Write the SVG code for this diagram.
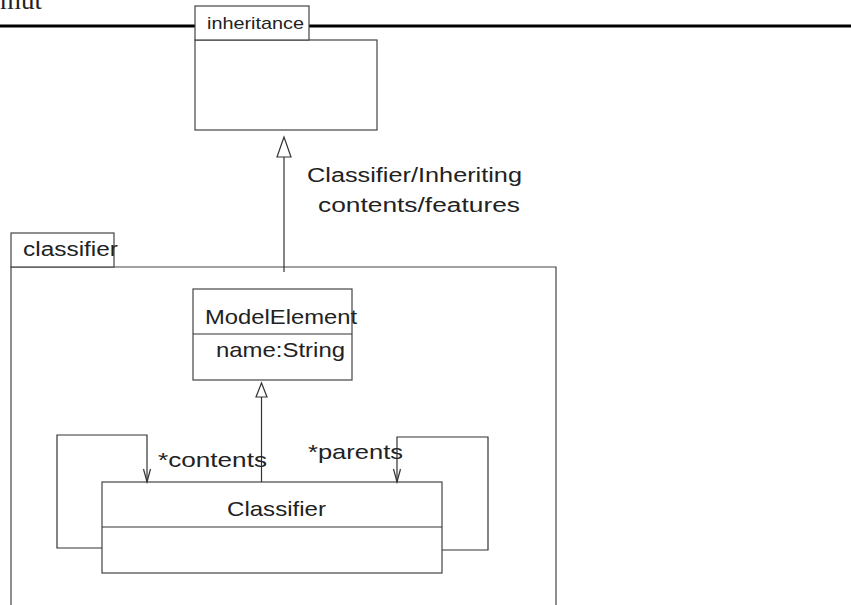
<svg xmlns="http://www.w3.org/2000/svg" width="851" height="605" viewBox="0 0 851 605">
<style>
.b{fill:#fff;stroke:#444;stroke-width:1.2}
.l{fill:none;stroke:#333;stroke-width:1.2}
.t{font-family:"Liberation Sans",Arial,sans-serif;fill:#222}
</style>
<text x="0" y="9" font-family="'Liberation Serif',serif" font-size="26" fill="#222" textLength="42" lengthAdjust="spacingAndGlyphs">mut</text>
<line x1="0" y1="26" x2="851" y2="26" stroke="#000" stroke-width="3"/>
<g id="inheritance">
<rect class="b" x="195" y="40" width="182" height="90"/>
<rect class="b" x="195" y="6" width="114" height="34"/>
<text class="t" x="207" y="29" font-size="17" textLength="97" lengthAdjust="spacingAndGlyphs">inheritance</text>
</g>
<g id="classifier-pkg">
<path class="b" d="M11,605 V267 H556 V605"/>
<rect class="b" x="11" y="233" width="103" height="34"/>
<text class="t" x="23" y="256" font-size="20" textLength="95" lengthAdjust="spacingAndGlyphs">classifier</text>
</g>
<g id="ModelElement">
<rect class="b" x="193" y="289" width="159" height="91"/>
<line class="l" x1="193" y1="334" x2="352" y2="334"/>
<text class="t" x="205" y="324" font-size="21" textLength="152" lengthAdjust="spacingAndGlyphs">ModelElement</text>
<text class="t" x="216" y="357" font-size="21" textLength="129" lengthAdjust="spacingAndGlyphs">name:String</text>
</g>
<g id="Classifier">
<rect class="b" x="102" y="482" width="340" height="91"/>
<line class="l" x1="102" y1="527" x2="442" y2="527"/>
<text class="t" x="227" y="516" font-size="21" textLength="99" lengthAdjust="spacingAndGlyphs">Classifier</text>
</g>
<g id="connectors">
<line class="l" x1="284" y1="272" x2="284" y2="157"/>
<polygon points="284,137 277,157 291,157" fill="#fff" stroke="#333" stroke-width="1.2"/>
<line class="l" x1="261.5" y1="482" x2="261.5" y2="397"/>
<polygon points="261.5,383 256,397 267,397" fill="#fff" stroke="#333" stroke-width="1.2"/>
<path class="l" d="M102,548 H57 V435 H147 V482"/>
<path class="l" d="M143.5,469 L147,482 L150.5,469"/>
<path class="l" d="M442,550 H488 V437 H397 V482"/>
<path class="l" d="M393.5,469 L397,482 L400.5,469"/>
</g>
<text class="t" x="307" y="182" font-size="20" textLength="215" lengthAdjust="spacingAndGlyphs">Classifier/Inheriting</text>
<text class="t" x="318" y="212" font-size="20" textLength="202" lengthAdjust="spacingAndGlyphs">contents/features</text>
<text class="t" x="158" y="467" font-size="21" textLength="109" lengthAdjust="spacingAndGlyphs">*contents</text>
<text class="t" x="308" y="459" font-size="21" textLength="95" lengthAdjust="spacingAndGlyphs">*parents</text>
</svg>
